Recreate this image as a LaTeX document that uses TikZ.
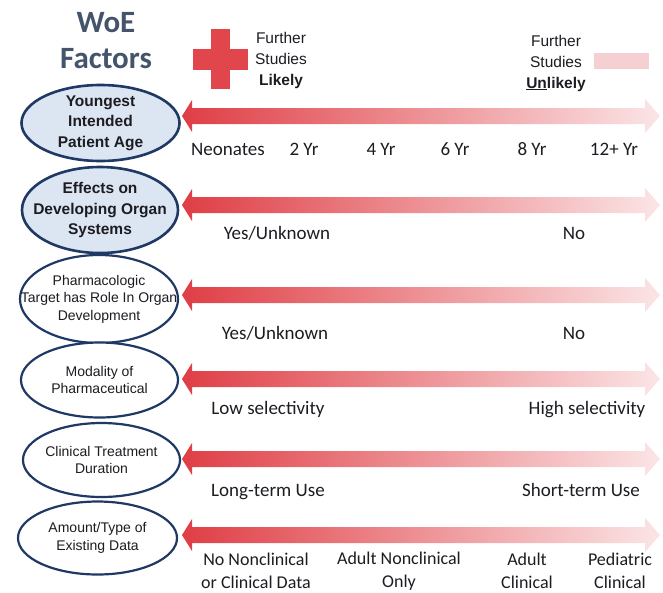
\documentclass[tikz,border=0pt]{standalone}
\usepackage{fontspec}
\setmainfont{Carlito}
\newfontfamily\arialfont{Liberation Sans}
\usetikzlibrary{shapes,positioning}

\begin{document}
\begin{tikzpicture}[x=1pt,y=-1pt,every text node part/.style={align=center},
    factor/.style={ellipse, draw=factorline, line width=2.2pt, fill=white,
        minimum width=158pt, minimum height=75pt, inner sep=0pt},
    keyfactor/.style={factor, fill=factorfill, line width=2.6pt},
    factortext/.style={inner sep=0pt, text=inkcol, font=\arialfont\fontsize{14}{17.5}\selectfont},
    keytext/.style={inner sep=0pt, text=inkcol, font=\arialfont\bfseries\fontsize{15.5}{20.5}\selectfont},
    scalelabel/.style={anchor=base, inner sep=0pt, text=inkcol, font=\fontsize{19}{23}\selectfont},
    legend/.style={inner sep=0pt, text=inkcol, font=\arialfont\fontsize{15.5}{21}\selectfont}]

\definecolor{headcol}{RGB}{68,84,106}
\definecolor{factorline}{RGB}{31,56,100}
\definecolor{factorfill}{RGB}{220,230,242}
\definecolor{inkcol}{RGB}{28,28,34}
\definecolor{crossred}{RGB}{224,70,76}
\definecolor{scalered}{RGB}{223,62,69}
\definecolor{scalepink}{RGB}{251,229,230}
\definecolor{palepink}{RGB}{245,207,210}

    \useasboundingbox (0,0) rectangle (663,592);

    %% heading
    \node[anchor=base, text=headcol, font=\bfseries\fontsize{31}{36}\selectfont] (woe) at (106,32) {WoE};
    \node[anchor=base, text=headcol, font=\bfseries\fontsize{31}{36}\selectfont] (factors) at (106,68) {Factors};

    %% legend: likely
    \fill[crossred] (193,49) rectangle (248,70);
    \fill[crossred] (211,29) rectangle (230,89);
    \node[legend] (likely) at (281,60) {Further\\Studies\\\textbf{Likely}};

    %% legend: unlikely
    \node[legend] (unlikely) at (556,63) {Further\\Studies\\\textbf{\underline{Un}likely}};
    \fill[palepink] (594,53) rectangle (649,69);

    %% factors
    \node[keyfactor, minimum height=76pt] (age) at (100.5,123) {};
    \node[keytext] (agetext) at (age) {Youngest\\Intended\\Patient Age};
    \node[keyfactor, minimum height=86pt, minimum width=156pt] (organs) at (100,210) {};
    \node[keytext] (organstext) at (organs) {Effects on\\Developing Organ\\Systems};
    \node[factor, minimum height=88pt] (target) at (99,299) {};
    \node[factortext] (targettext) at (target) {Pharmacologic\\Target has Role In Organ\\Development};
    \node[factor, minimum width=157pt] (modality) at (99.5,380) {};
    \node[factortext] (modalitytext) at (modality) {Modality of\\Pharmaceutical};
    \node[factor, minimum width=157pt, minimum height=74pt] (duration) at (101.5,460) {};
    \node[factortext] (durationtext) at (duration) {Clinical Treatment\\Duration};
    \node[factor, minimum width=159pt, minimum height=73pt] (data) at (97.5,538) {};
    \node[factortext] (datatext) at (data) {Amount/Type of\\Existing Data};

    %% scales
    \foreach \y in {116,205,295,379,459,535}
      \shade[left color=scalered, right color=scalepink]
        (182,\y) -- (192,\y-16) -- (192,\y-8) -- (645,\y-8) -- (645,\y-17)
        -- (660,\y) -- (645,\y+17) -- (645,\y+8) -- (192,\y+8) -- (192,\y+16) -- cycle;

    % age scale
    \node[scalelabel] (neonates) at (228,155) {Neonates};
    \node[scalelabel] (yr2) at (304,155) {2 Yr};
    \node[scalelabel] (yr4) at (381,155) {4 Yr};
    \node[scalelabel] (yr6) at (455,155) {6 Yr};
    \node[scalelabel] (yr8) at (532,155) {8 Yr};
    \node[scalelabel] (yr12) at (614,155) {12+ Yr};

    % organ effects
    \node[scalelabel] (organsyes) at (277,239) {Yes/Unknown};
    \node[scalelabel] (organsno) at (574,239) {No};

    % target
    \node[scalelabel] (targetyes) at (275,339) {Yes/Unknown};
    \node[scalelabel] (targetno) at (574,339) {No};

    % modality
    \node[scalelabel] (lowsel) at (268,414) {Low selectivity};
    \node[scalelabel] (highsel) at (587,414) {High selectivity};

    % duration
    \node[scalelabel] (longterm) at (268,496) {Long-term Use};
    \node[scalelabel] (shortterm) at (581,496) {Short-term Use};

    % existing data
    \node[scalelabel, anchor=center, font=\fontsize{18}{23}\selectfont] (nodata) at (256,571) {No Nonclinical\\or Clinical Data};
    \node[scalelabel, anchor=center, font=\fontsize{18}{23}\selectfont] (adultnonclin) at (399,571) {Adult Nonclinical\\Only};
    \node[scalelabel, anchor=center, font=\fontsize{18}{23}\selectfont] (adultclin) at (527,571) {Adult\\Clinical};
    \node[scalelabel, anchor=center, font=\fontsize{18}{23}\selectfont] (pedclin) at (620,571) {Pediatric\\Clinical};
  \end{tikzpicture}
\end{document}
